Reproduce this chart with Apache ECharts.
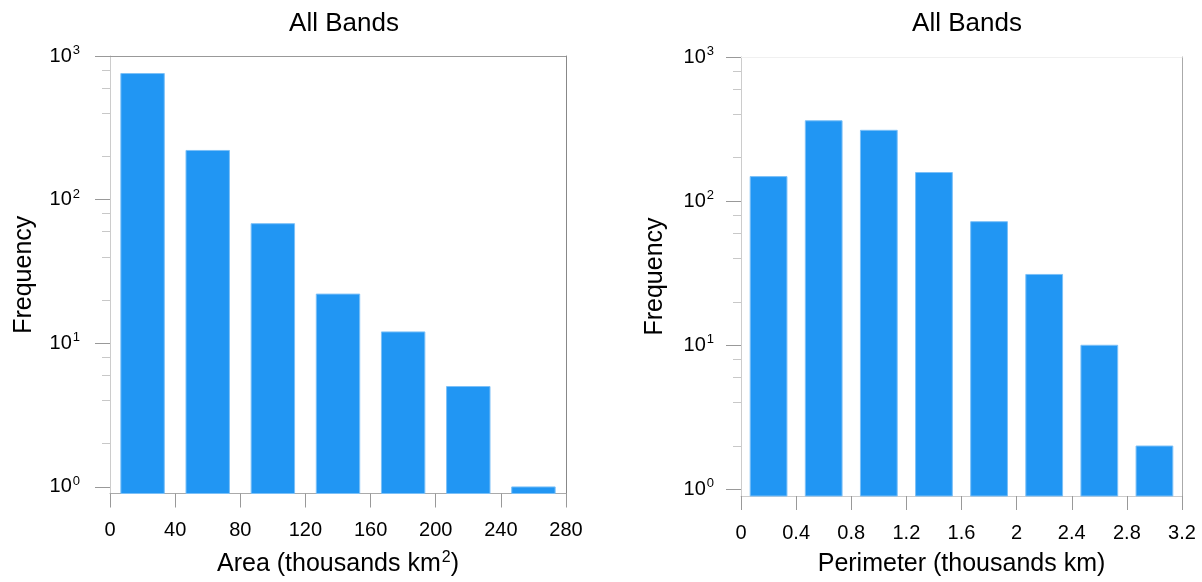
<!DOCTYPE html>
<html>
<head>
<meta charset="utf-8">
<script src="https://cdn.jsdelivr.net/npm/echarts@6/dist/echarts.min.js"></script>
<style>
html,body{margin:0;padding:0;background:#fff;}
#chart{width:1202px;height:582px;}
</style>
</head>
<body>
<div id="chart"></div>
<script>
// ---- data ----
const areaBinStarts = [0, 40, 80, 120, 160, 200, 240];
const areaBinWidth = 40;
const areaCounts = [755, 220, 68, 22, 12, 5, 1];

const perimBinStarts = [0, 0.4, 0.8, 1.2, 1.6, 2.0, 2.4, 2.8];
const perimBinWidth = 0.4;
const perimCounts = [148, 361, 310, 158, 72, 31, 10, 2];

const areaAxis = {min: 0, max: 280, interval: 40};
const perimAxis = {min: 0, max: 3.2, interval: 0.4};
const yMin = 0.9, yMax = 1000;
const yMajorTicks = [1, 10, 100, 1000];
const yMinorTicks = [2, 4, 6, 8, 20, 40, 60, 80, 200, 400, 600, 800];

const titleText = 'All Bands';
const leftXName = 'Area (thousands km{s|2})';
const rightXName = 'Perimeter (thousands km)';
const yName = 'Frequency';

// ---- chart ----
const FONT = 'Liberation Sans';
const BAR = '#2196F3';

function toData(starts, w, counts) {
  return starts.map((s, i) => [s, s + w, counts[i]]);
}

function renderBar(params, api) {
  const lo = api.value(0), hi = api.value(1), v = api.value(2);
  const w = hi - lo;
  const p0 = api.coord([lo + w / 6, v]);
  const p1 = api.coord([hi - w / 6, yMin]);
  return {
    type: 'rect',
    shape: {x: p0[0], y: p0[1], width: p1[0] - p0[0], height: p1[1] - p0[1]},
    style: {fill: BAR, stroke: '#7cc0f7', lineWidth: 1}
  };
}

function supLabel(v) {
  const e = Math.round(Math.log10(v));
  return '{b|10}{s|' + e + '}';
}

const richY = {
  b: {fontSize: 20, fontFamily: FONT, color: '#000'},
  s: {fontSize: 13, fontFamily: FONT, color: '#000', verticalAlign: 'top', padding: [0, 0, 11, 1]}
};

const nameStyle = {
  fontSize: 25, fontFamily: FONT, color: '#000',
  rich: {
    s: {fontSize: 16, fontFamily: FONT, color: '#000', verticalAlign: 'top', padding: [0, 0, 14, 1]}
  }
};

function makeYAxes(gridIndex, frameColor, leftColor, labelMargin) {
  return [
    {
      gridIndex, type: 'log', logBase: 10, min: yMin, max: yMax,
      position: 'left',
      name: yName, nameLocation: 'middle', nameGap: 73, nameRotate: 90,
      nameTextStyle: {fontSize: 25, fontFamily: FONT, color: '#000'},
      axisLine: {show: true, lineStyle: {color: leftColor, width: 1}},
      axisTick: {show: true, inside: false, length: 15, customValues: yMajorTicks, lineStyle: {color: '#999'}},
      axisLabel: {show: true, margin: labelMargin, customValues: yMajorTicks, formatter: supLabel, rich: richY},
      splitLine: {show: false}, minorTick: {show: false}
    },
    {
      gridIndex, type: 'log', logBase: 10, min: yMin, max: yMax,
      position: 'left',
      axisLine: {show: false},
      axisTick: {show: true, inside: false, length: 8, customValues: yMinorTicks, lineStyle: {color: '#c8c8c8'}},
      axisLabel: {show: false},
      splitLine: {show: false}
    },
    {
      gridIndex, type: 'log', logBase: 10, min: yMin, max: yMax,
      position: 'right',
      axisLine: {show: true, lineStyle: {color: frameColor, width: 1}},
      axisTick: {show: false}, axisLabel: {show: false}, splitLine: {show: false}
    }
  ];
}

function makeXAxes(gridIndex, ax, name, bottomColor, topColor) {
  return [
    {
      gridIndex, type: 'value', min: ax.min, max: ax.max, interval: ax.interval,
      position: 'bottom',
      name: name, nameLocation: 'middle', nameGap: 56,
      nameTextStyle: nameStyle,
      axisLine: {show: true, onZero: false, lineStyle: {color: bottomColor, width: 1}},
      axisTick: {show: true, inside: false, length: 14, lineStyle: {color: '#999'}},
      axisLabel: {show: true, margin: 27, fontSize: 20, fontFamily: FONT, color: '#000', showMinLabel: true, showMaxLabel: true},
      splitLine: {show: false}
    },
    {
      gridIndex, type: 'value', min: ax.min, max: ax.max,
      position: 'top',
      axisLine: {show: true, onZero: false, lineStyle: {color: topColor, width: 1}},
      axisTick: {show: false}, axisLabel: {show: false}, splitLine: {show: false}
    }
  ];
}

const chart = echarts.init(document.getElementById('chart'), null, {renderer: 'canvas'});

const option = {
  backgroundColor: '#fff',
  animation: false,
  title: [
    {text: titleText, left: 339, top: 6, textAlign: 'center',
     textStyle: {fontSize: 26, fontWeight: 'normal', fontFamily: FONT, color: '#000'}},
    {text: titleText, left: 962, top: 6, textAlign: 'center',
     textStyle: {fontSize: 26, fontWeight: 'normal', fontFamily: FONT, color: '#000'}}
  ],
  grid: [
    {left: 110, right: 636, top: 56, bottom: 87, containLabel: false},
    {left: 741, right: 20, top: 57, bottom: 85, containLabel: false}
  ],
  xAxis: [
    ...makeXAxes(0, areaAxis, leftXName, '#aaa', '#999'),
    ...makeXAxes(1, perimAxis, rightXName, '#ccc', '#f0f0f0')
  ],
  yAxis: [
    ...makeYAxes(0, '#888', '#ccc', 30),
    ...makeYAxes(1, '#aaa', '#ccc', 27)
  ],
  series: [
    {type: 'custom', xAxisIndex: 0, yAxisIndex: 0, renderItem: renderBar,
     data: toData(areaBinStarts, areaBinWidth, areaCounts), clip: false,
     encode: {x: [0, 1], y: 2}},
    {type: 'custom', xAxisIndex: 2, yAxisIndex: 3, renderItem: renderBar,
     data: toData(perimBinStarts, perimBinWidth, perimCounts), clip: false,
     encode: {x: [0, 1], y: 2}}
  ]
};
chart.setOption(option);
</script>
</body>
</html>
